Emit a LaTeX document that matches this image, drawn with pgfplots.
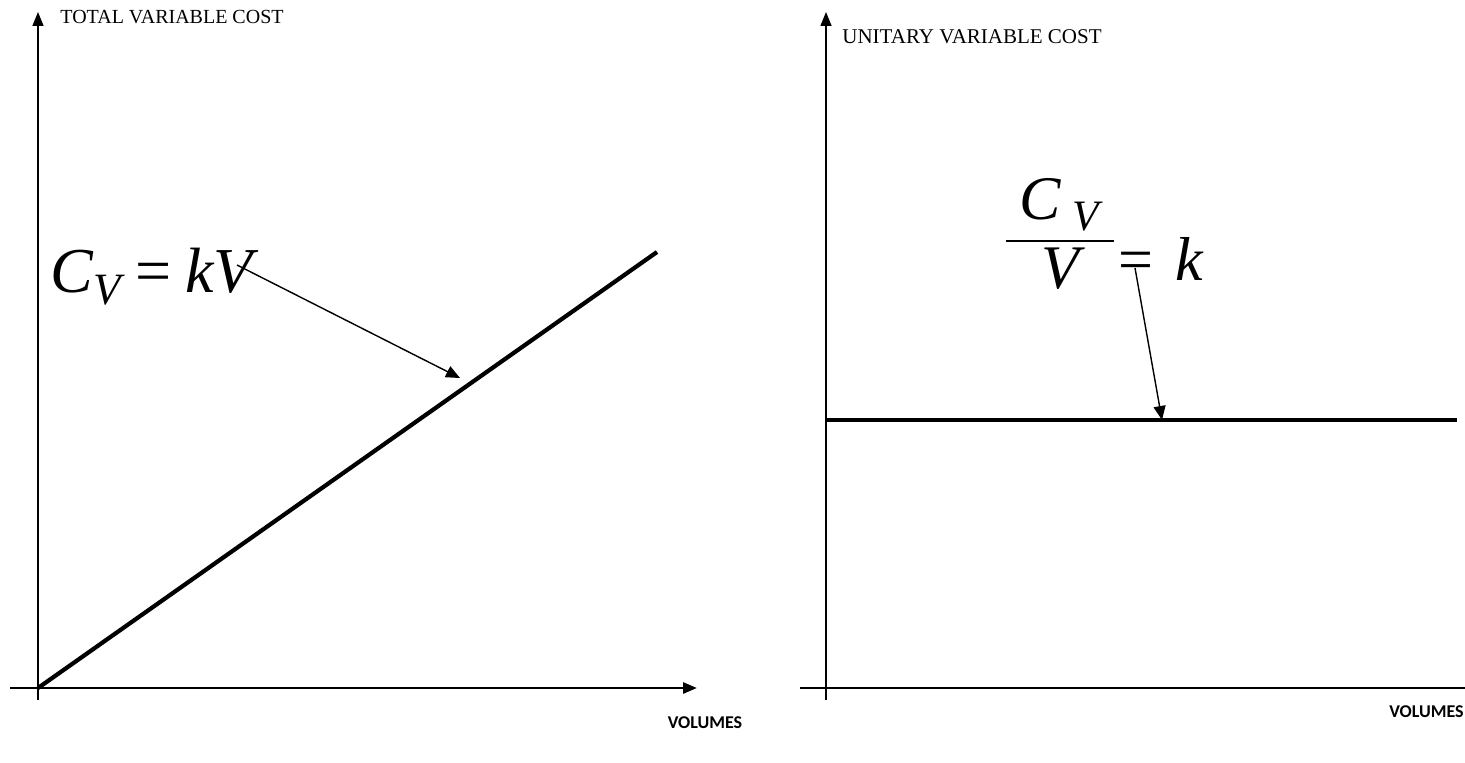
\documentclass[border=0pt]{standalone}
\usepackage{pgfplots}
\pgfplotsset{compat=1.18}
\usepackage{amsmath}
\usepackage{fontspec}
\setmainfont{Liberation Serif}
\newfontfamily\carlito{Carlito}
\usetikzlibrary{arrows.meta}
\begin{document}
\begin{tikzpicture}[x=0.5pt,y=0.5pt]
\clip (0,0) rectangle (1465,762);
\path[use as bounding box] (0,0) rectangle (1465,762);
% ---------- left panel ----------
\begin{axis}[
  at={(38,74)}, anchor=origin,
  scale only axis, width=343.5pt, height=344pt,
  xmin=-28, xmax=659, ymin=-12, ymax=676,
  axis lines=middle, clip=false,
  xtick=\empty, ytick=\empty,
  x axis line style={line width=1.4pt,-{Triangle[length=7pt,width=5.5pt]}},
  y axis line style={line width=0.75pt,-{Triangle[length=7pt,width=5.5pt]}},
]
\addplot[line width=2.1pt, black] coordinates {(0,0) (619,436)};
\draw[line width=0.7pt,-{Triangle[length=7pt,width=6pt]}] (axis cs:199,423) -- (axis cs:422,310);
\end{axis}
% ---------- right panel ----------
\begin{axis}[
  at={(826,74)}, anchor=origin,
  scale only axis, width=380pt, height=344pt,
  xmin=-26, xmax=734, ymin=-12, ymax=676,
  axis lines=middle, clip=false,
  xtick=\empty, ytick=\empty,
  x axis line style={line width=1.4pt,-{Triangle[length=7pt,width=5.5pt]}},
  y axis line style={line width=0.75pt,-{Triangle[length=7pt,width=5.5pt]}},
]
\addplot[line width=2.1pt, black] coordinates {(0,268) (631,268)};
\draw[line width=0.7pt,-{Triangle[length=7pt,width=6pt]}] (axis cs:309,420) -- (axis cs:336,268);
\end{axis}
% ---------- texts ----------
\node[anchor=west, font=\fontsize{10}{12}\selectfont, inner sep=0pt] at (60,745) {TOTAL VARIABLE COST};
\node[anchor=west, font=\fontsize{10.5}{12}\selectfont, inner sep=0pt] at (842,725) {UNITARY VARIABLE COST};
\node[anchor=center, font=\carlito\bfseries\fontsize{9}{11}\selectfont, inner sep=0pt] at (705,39) {VOLUMES};
\node[anchor=east, font=\carlito\bfseries\fontsize{9}{11}\selectfont, inner sep=0pt] at (1464,50) {VOLUMES};
\node[anchor=base west, font=\fontsize{32}{38}\selectfont, inner sep=0pt] at (50,470) {$\textit{C}_{\textit{V}} \;\text{=}\; \textit{kV}$};
\node[anchor=center, font=\fontsize{31}{36}\selectfont, inner sep=0pt] at (1060,528) {$\displaystyle\frac{\;\textit{C}_{\;\textit{V}}\;}{\textit{V}}$};
\node[anchor=base west, font=\fontsize{31}{36}\selectfont, inner sep=0pt] at (1118,482) {$\text{=}\;\,\textit{k}$};
\end{tikzpicture}
\end{document}
